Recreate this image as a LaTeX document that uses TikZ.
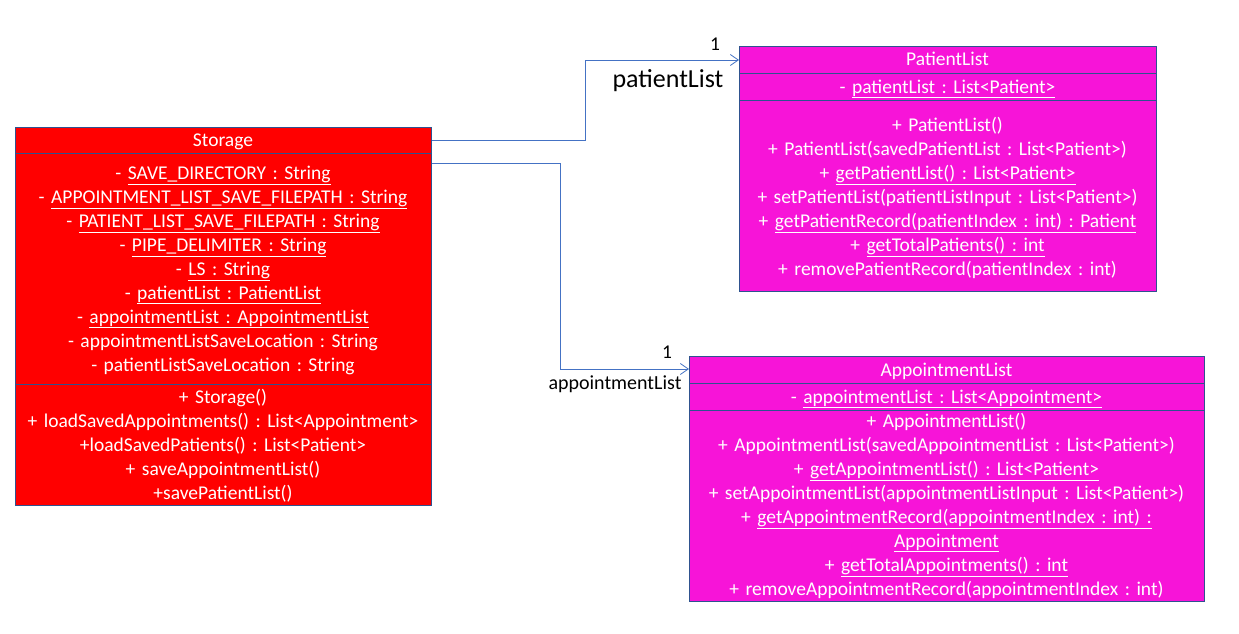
\documentclass[tikz,border=0pt]{standalone}
\usepackage{fontspec}
\setmainfont{Carlito}
\frenchspacing
\usetikzlibrary{arrows.meta}
\definecolor{boxred}{HTML}{FF0000}
\definecolor{boxmag}{HTML}{F714D8}
\definecolor{boxedge}{HTML}{2F528F}
\definecolor{conn}{HTML}{4472C4}
\tikzset{
  classbox/.style={draw=boxedge, line width=0.9pt, inner sep=0pt, anchor=north west},
  sepline/.style={draw=boxedge, line width=0.9pt},
  txt/.style={font=\fontsize{19.5}{24}\selectfont, text=white, align=center, anchor=base, inner sep=0pt},
  connector/.style={draw=conn, line width=0.9pt, -{Straight Barb[length=8pt,width=11pt,line width=0.8pt]}},
  lbl/.style={font=\fontsize{19.5}{22}\selectfont, text=black, inner sep=0pt, anchor=base},
}
\begin{document}
\begin{tikzpicture}[x=1pt,y=-1pt]
\useasboundingbox[fill=white] (0,0) rectangle (1239,634);
% Storage
\node[classbox, fill=boxred, minimum width=416pt, minimum height=378pt] (storage) at (15,127) {};
\draw[sepline] (15,153) -- (431,153);
\draw[sepline] (15,384) -- (431,384);
\node[txt, text width=410pt] (stitle) at (223,146) {Storage};
\node[txt, text width=410pt] (sattr) at (223,179) {- \underline{SAVE\_DIRECTORY : String}\\
- \underline{APPOINTMENT\_LIST\_SAVE\_FILEPATH : String}\\
- \underline{PATIENT\_LIST\_SAVE\_FILEPATH : String}\\
- \underline{PIPE\_DELIMITER : String}\\
- \underline{LS : String}\\
- \underline{patientList : PatientList}\\
- \underline{appointmentList : AppointmentList}\\
- appointmentListSaveLocation : String\\
- patientListSaveLocation : String};
\node[txt, text width=410pt] (smeth) at (223,403) {+ Storage()\\
+ loadSavedAppointments() : List<Appointment>\\
+loadSavedPatients() : List<Patient>\\
+ saveAppointmentList()\\
+savePatientList()};
% PatientList
\node[classbox, fill=boxmag, minimum width=417pt, minimum height=245pt] (plist) at (739,46) {};
\draw[sepline] (739,73) -- (1156,73);
\draw[sepline] (739,100) -- (1156,100);
\node[txt, text width=410pt] (pltitle) at (947.5,66) {PatientList};
\node[txt, text width=410pt] (plattr) at (947.5,93) {- \underline{patientList : List<Patient>}};
\node[txt, text width=410pt] (plmeth) at (947.5,131) {+ PatientList()\\
+ PatientList(savedPatientList : List<Patient>)\\
+ \underline{getPatientList() : List<Patient>}\\
+ setPatientList(patientListInput : List<Patient>)\\
+ \underline{getPatientRecord(patientIndex : int) : Patient}\\
+ \underline{getTotalPatients() : int}\\
+ removePatientRecord(patientIndex : int)};
% AppointmentList
\node[classbox, fill=boxmag, minimum width=515pt, minimum height=245pt] (alist) at (689,356) {};
\draw[sepline] (689,383) -- (1204,383);
\draw[sepline] (689,410) -- (1204,410);
\node[txt, text width=505pt] (altitle) at (946.5,376) {AppointmentList};
\node[txt, text width=505pt] (alattr) at (946.5,403) {- \underline{appointmentList : List<Appointment>}};
\node[txt, text width=505pt] (almeth) at (946.5,427) {+ AppointmentList()\\
+ AppointmentList(savedAppointmentList : List<Patient>)\\
+ \underline{getAppointmentList() : List<Patient>}\\
+ setAppointmentList(appointmentListInput : List<Patient>)\\
+ \underline{getAppointmentRecord(appointmentIndex : int) :}\\
\underline{Appointment}\\
+ \underline{getTotalAppointments() : int}\\
+ removeAppointmentRecord(appointmentIndex : int)};
% connectors
\coordinate (pltip) at (739,60);
\coordinate (altip) at (689,369);
\draw[connector] (storage.north east |- 0,140) -- (585,140) |- (pltip);
\draw[connector] (storage.north east |- 0,163) -- (560,163) |- (altip);
\node[lbl] (m1) at (715,51) {1};
\node[lbl, font=\fontsize{26}{30}\selectfont] (r1) at (668,87) {patientList};
\node[lbl, font=\fontsize{20}{24}\selectfont] (r2) at (615,389) {appointmentList};
\node[lbl] (m2) at (667,358) {1};
\end{tikzpicture}
\end{document}
